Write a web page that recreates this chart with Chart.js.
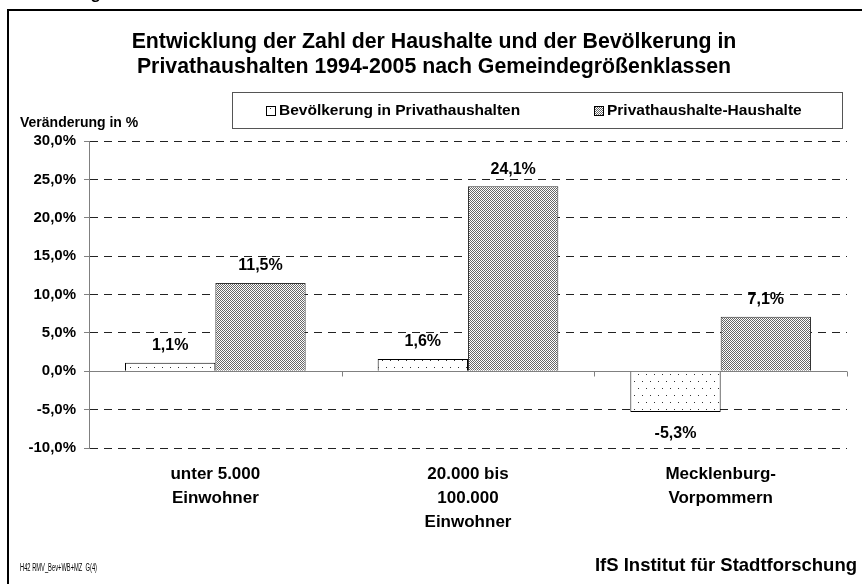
<!DOCTYPE html>
<html>
<head>
<meta charset="utf-8">
<script src="https://cdn.jsdelivr.net/npm/chart.js@4/dist/chart.umd.min.js"></script>
<style>
    html, body { margin: 0; padding: 0; background: #fff; }
    #wrap { width: 862px; height: 584px; }
</style>
</head>
<body>
<div id="wrap"><canvas id="chart" width="862" height="584"></canvas></div>
<script>
    "use strict";

    // --- data ---
    const categories = [
        ['unter 5.000', 'Einwohner'],
        ['20.000 bis', '100.000', 'Einwohner'],
        ['Mecklenburg-', 'Vorpommern']
    ];
    const seriesNames = ['Bevölkerung in Privathaushalten', 'Privathaushalte-Haushalte'];
    const bevoelkerung = [1.1, 1.6, -5.3];
    const haushalte = [11.5, 24.1, 7.1];
    const yMin = -10;
    const yMax = 30;
    const yStep = 5;

    const titleLines = [
        'Entwicklung der Zahl der Haushalte und der Bevölkerung in',
        'Privathaushalten 1994-2005 nach Gemeindegrößenklassen'
    ];
    const yTitle = 'Veränderung in %';
    const sourceNote = 'H42 RMV_Bev+WB+MZ  G(4)';
    const publisher = 'IfS Institut für Stadtforschung';

    const FONT = "'Liberation Sans', Arial, sans-serif";

    const fmt = (v) => v.toFixed(1).replace('.', ',') + '%';

    // sparse staggered dots
    function sparseDots() {
        const c = document.createElement('canvas');
        c.width = 8;
        c.height = 14;
        const x = c.getContext('2d');
        x.fillStyle = '#fff';
        x.fillRect(0, 0, 8, 14);
        x.fillStyle = '#333';
        x.fillRect(2, 3, 1, 1);
        x.fillRect(6, 10, 1, 1);
        return x.createPattern(c, 'repeat');
    }

    // dense stipple, reads as mid grey
    function denseDots() {
        const c = document.createElement('canvas');
        c.width = 2;
        c.height = 2;
        const x = c.getContext('2d');
        x.fillStyle = '#fff';
        x.fillRect(0, 0, 2, 2);
        x.fillStyle = '#666';
        x.fillRect(0, 0, 1, 1);
        x.fillRect(1, 1, 1, 1);
        return x.createPattern(c, 'repeat');
    }

    const fills = [sparseDots(), denseDots()];

    const decorations = {
        id: 'decorations',
        beforeDatasetsDraw(chart) {
            const ctx = chart.ctx;
            const area = chart.chartArea;
            const y0 = Math.round(chart.scales.y.getPixelForValue(0)) + 0.5;
            ctx.save();
            ctx.strokeStyle = '#808080';
            ctx.lineWidth = 1;
            ctx.beginPath();
            ctx.moveTo(area.left, y0);
            ctx.lineTo(area.right, y0);
            // category ticks on the zero line
            const step = (area.right - area.left) / categories.length;
            for (let i = 1; i <= categories.length; i++) {
                const x = Math.round(area.left + step * i) + 0.5;
                ctx.moveTo(x, y0);
                ctx.lineTo(x, y0 + 5);
            }
            ctx.stroke();
            ctx.restore();
        },
        afterDatasetsDraw(chart) {
            const ctx = chart.ctx;
            ctx.save();
            ctx.fillStyle = '#000';
            ctx.font = 'bold 16px ' + FONT;
            ctx.textAlign = 'center';
            ctx.textBaseline = 'middle';
            chart.data.datasets.forEach((ds, di) => {
                chart.getDatasetMeta(di).data.forEach((bar, i) => {
                    const v = ds.data[i];
                    const y = v >= 0 ? bar.y - 17 : bar.y + 22;
                    ctx.fillText(fmt(v), bar.x, y);
                });
            });
            ctx.restore();
        },
        afterDraw(chart) {
            const ctx = chart.ctx;
            ctx.save();

            // outer frame
            ctx.strokeStyle = '#000';
            ctx.lineWidth = 2;
            ctx.strokeRect(8, 10, 900, 650);

            // cut-off heading above the frame
            ctx.fillStyle = '#000';
            ctx.font = 'bold 17px ' + FONT;
            ctx.textAlign = 'right';
            ctx.textBaseline = 'alphabetic';
            ctx.fillText('Abbildung', 101, -1);

            // title
            ctx.font = 'bold 21.3px ' + FONT;
            ctx.textAlign = 'center';
            ctx.fillText(titleLines[0], 434, 48);
            ctx.fillText(titleLines[1], 434, 73);

            // y axis title
            ctx.font = 'bold 14px ' + FONT;
            ctx.textAlign = 'left';
            ctx.fillText(yTitle, 20, 127);

            // legend
            ctx.strokeStyle = '#555';
            ctx.lineWidth = 1;
            ctx.strokeRect(232.5, 92.5, 610, 36);
            const items = [
                {x: 266, label: seriesNames[0], fill: fills[0]},
                {x: 594, label: seriesNames[1], fill: fills[1]}
            ];
            ctx.font = 'bold 15.5px ' + FONT;
            ctx.textBaseline = 'middle';
            items.forEach((it) => {
                ctx.fillStyle = it.fill;
                ctx.fillRect(it.x, 106, 10, 10);
                ctx.strokeStyle = '#000';
                ctx.strokeRect(it.x + 0.5, 106.5, 9, 9);
                ctx.fillStyle = '#000';
                ctx.fillText(it.label, it.x + 13, 111);
            });

            // footer
            ctx.font = '10px ' + FONT;
            ctx.fillText(sourceNote, 20, 568, 77);
            ctx.font = 'bold 18.5px ' + FONT;
            ctx.textAlign = 'right';
            ctx.fillText(publisher, 857, 566);

            ctx.restore();
        }
    };

    new Chart(document.getElementById('chart'), {
        type: 'bar',
        data: {
            labels: categories,
            datasets: [{
                label: seriesNames[0],
                data: bevoelkerung,
                backgroundColor: fills[0],
                borderColor: '#000',
                borderWidth: 1
            }, {
                label: seriesNames[1],
                data: haushalte,
                backgroundColor: fills[1],
                borderColor: '#333',
                borderWidth: 1
            }]
        },
        options: {
            responsive: false,
            animation: false,
            devicePixelRatio: 1,
            layout: {
                padding: {top: 141, left: 0, right: 15, bottom: 0}
            },
            datasets: {
                bar: {
                    categoryPercentage: 0.715,
                    barPercentage: 1
                }
            },
            plugins: {
                legend: {display: false},
                title: {display: false},
                tooltip: {enabled: false}
            },
            scales: {
                x: {
                    afterFit: (scale) => { scale.height = 136; },
                    grid: {display: false, drawTicks: false},
                    border: {display: false},
                    ticks: {
                        color: '#000',
                        padding: 14,
                        font: {family: FONT, size: 17, weight: 'bold', lineHeight: 1.42}
                    }
                },
                y: {
                    min: yMin,
                    max: yMax,
                    afterFit: (scale) => { scale.width = 89; },
                    grid: {
                        color: (c) => c.tick && c.tick.value === 0 ? 'rgba(0,0,0,0)' : '#222',
                        tickColor: '#808080',
                        tickLength: 5
                    },
                    border: {color: '#808080', dash: [8, 6]},
                    ticks: {
                        stepSize: yStep,
                        color: '#000',
                        padding: 8,
                        font: {family: FONT, size: 15, weight: 'bold'},
                        callback: (v) => fmt(v)
                    }
                }
            }
        },
        plugins: [decorations]
    });
</script>
</body>
</html>
